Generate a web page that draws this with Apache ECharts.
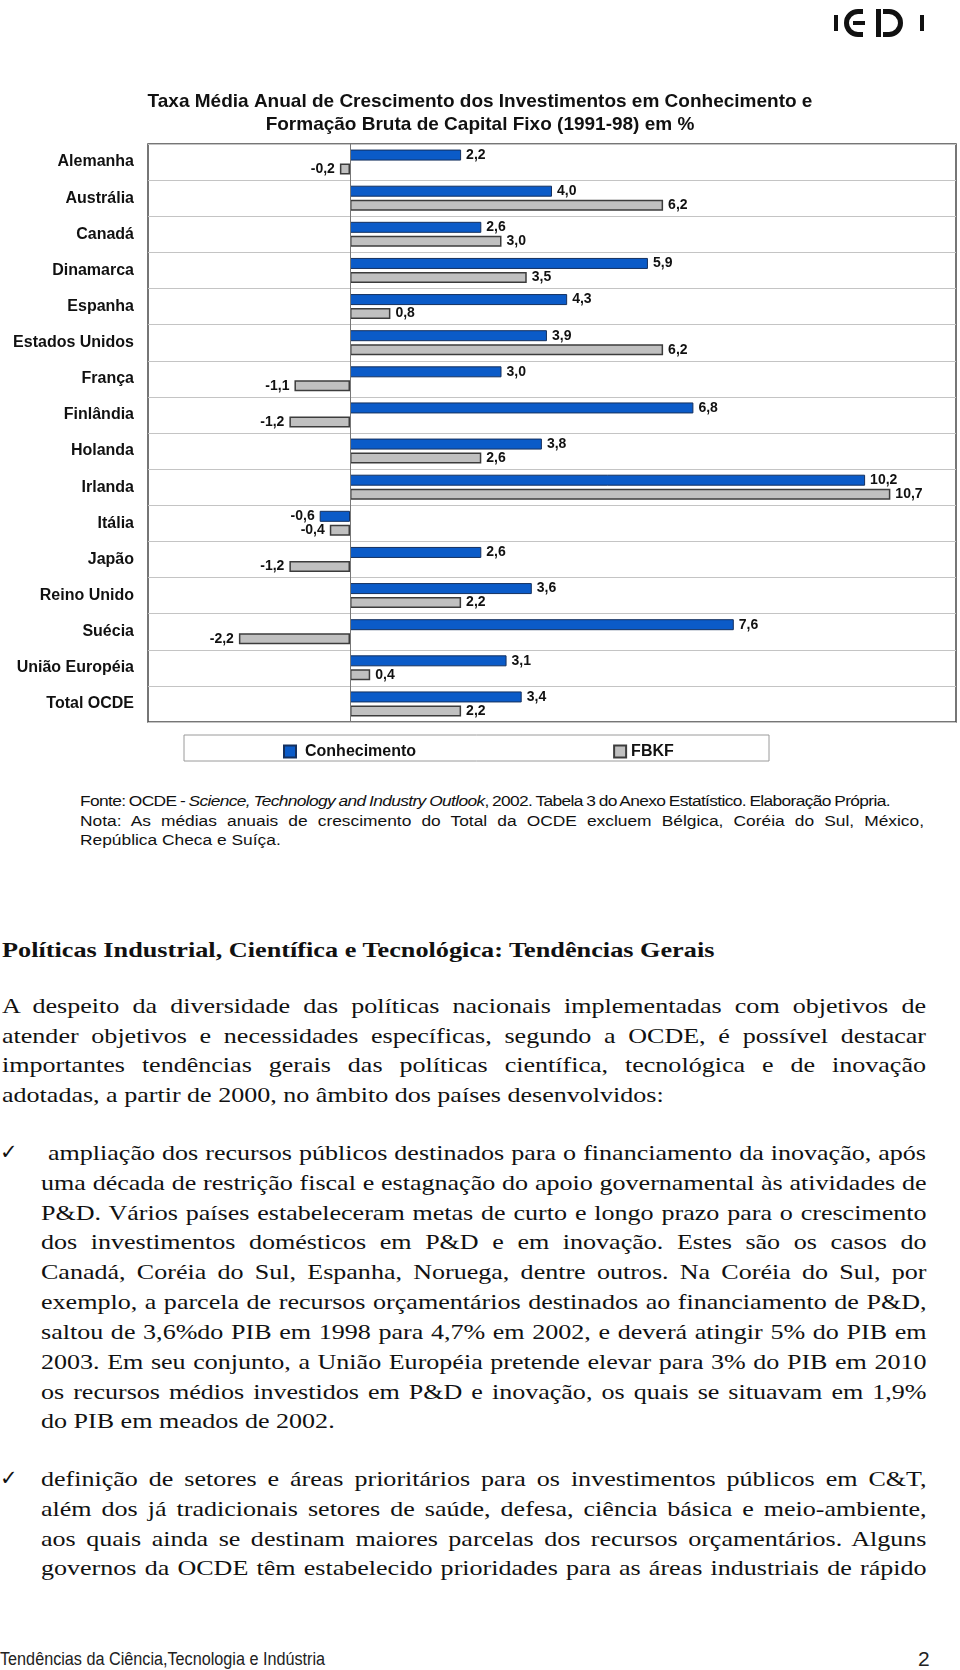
<!DOCTYPE html>
<html>
<head>
<meta charset="utf-8">
<script src="https://cdn.jsdelivr.net/npm/echarts@6.0.0/dist/echarts.min.js"></script>
<style>
  html, body { margin: 0; padding: 0; background: #fff; }
  #page { position: relative; width: 960px; height: 1670px; overflow: hidden; background: #fff; }
  #chart { position: absolute; left: 0; top: 0; width: 960px; height: 780px; }
  .notes { position: absolute; font-family: 'Liberation Sans', Arial, sans-serif; font-size: 15.5px; color: #111; line-height: 20px; white-space: nowrap; transform-origin: 0 0; }
  .notes.j { text-align: justify; text-align-last: justify; white-space: normal; word-spacing: -2px; }
  .notes.tight { letter-spacing: -0.58px; word-spacing: -0.6px; }
  .ln { position: absolute; font-family: 'Liberation Serif', 'Times New Roman', serif; font-size: 21px; line-height: 30px; color: #111; white-space: nowrap; transform-origin: 0 0; }
  .ln.j { white-space: normal; text-align: justify; text-align-last: justify; word-spacing: -3px; }
  .ln.b { font-weight: bold; }
  .check { position: absolute; left: 0px; font-family: 'DejaVu Sans', sans-serif; font-size: 21px; line-height: 30px; color: #111; }
  .foot { position: absolute; font-family: 'Liberation Sans', Arial, sans-serif; color: #222; white-space: nowrap; }
</style>
</head>
<body>
<div id="page">
  <div id="chart"></div>
  <div id="text"></div>
  <div class="foot" style="left:0; top:1648px; font-size:18px; line-height:22px; transform:scaleX(0.9); transform-origin:0 0;">Tendências da Ciência,Tecnologia e Indústria</div>
  <div class="foot" style="left:918px; top:1647px; font-size:21px; line-height:24px;">2</div>
</div>
<script>
// ---- chart data ----
const categories = ['Alemanha', 'Austrália', 'Canadá', 'Dinamarca', 'Espanha', 'Estados Unidos', 'França', 'Finlândia', 'Holanda', 'Irlanda', 'Itália', 'Japão', 'Reino Unido', 'Suécia', 'União Européia', 'Total OCDE'];
const conhecimento = [2.2, 4.0, 2.6, 5.9, 4.3, 3.9, 3.0, 6.8, 3.8, 10.2, -0.6, 2.6, 3.6, 7.6, 3.1, 3.4];
const fbkf = [-0.2, 6.2, 3.0, 3.5, 0.8, 6.2, -1.1, -1.2, 2.6, 10.7, -0.4, -1.2, 2.2, -2.2, 0.4, 2.2];
const seriesNames = ['Conhecimento', 'FBKF'];
const titleLines = ['Taxa Média Anual de Crescimento dos Investimentos em Conhecimento e', 'Formação Bruta de Capital Fixo (1991-98) em %'];

// ---- text blocks ----
const noteLines = [
  'Fonte: OCDE - <i>Science, Technology and Industry Outlook</i>, 2002. Tabela 3 do Anexo Estatístico. Elaboração Própria.',
  'Nota: As médias anuais de crescimento do Total da OCDE excluem Bélgica, Coréia do Sul, México,',
  'República Checa e Suíça.'
];
const heading = 'Políticas Industrial, Científica e Tecnológica: Tendências Gerais';
const para = [
  'A despeito da diversidade das políticas nacionais implementadas com objetivos de',
  'atender objetivos e necessidades específicas, segundo a OCDE, é possível destacar',
  'importantes tendências gerais das políticas científica, tecnológica e de inovação',
  'adotadas, a partir de 2000, no âmbito dos países desenvolvidos:'
];
const bullet1 = [
  'ampliação dos recursos públicos destinados para o financiamento da inovação, após',
  'uma década de restrição fiscal e estagnação do apoio governamental às atividades de',
  'P&amp;D. Vários países estabeleceram metas de curto e longo prazo para o crescimento',
  'dos investimentos domésticos em P&amp;D e em inovação. Estes são os casos do',
  'Canadá, Coréia do Sul, Espanha, Noruega, dentre outros. Na Coréia do Sul, por',
  'exemplo, a parcela de recursos orçamentários destinados ao financiamento de P&amp;D,',
  'saltou de 3,6%do PIB em 1998 para 4,7% em 2002, e deverá atingir 5% do PIB em',
  '2003. Em seu conjunto, a União Européia pretende elevar para 3% do PIB em 2010',
  'os recursos médios investidos em P&amp;D e inovação, os quais se situavam em 1,9%',
  'do PIB em meados de 2002.'
];
const bullet2 = [
  'definição de setores e áreas prioritários para os investimentos públicos em C&amp;T,',
  'além dos já tradicionais setores de saúde, defesa, ciência básica e meio-ambiente,',
  'aos quais ainda se destinam maiores parcelas dos recursos orçamentários. Alguns',
  'governos da OCDE têm estabelecido prioridades para as áreas industriais de rápido'
];

// ---- build HTML text ----
(function () {
  const host = document.getElementById('text');
  function put(cls, html, left, right, cy, lh, scale) {
    const d = document.createElement('div');
    d.className = cls;
    d.style.left = left + 'px';
    d.style.top = (cy - lh / 2) + 'px';
    d.style.width = ((right - left) / scale) + 'px';
    d.style.transform = 'scaleX(' + scale + ')';
    d.innerHTML = html;
    host.appendChild(d);
  }
  // notes
  const NS = 1.12;
  put('notes tight', noteLines[0], 80, 924, 801, 20, NS);
  put('notes j', noteLines[1], 80, 924, 820.5, 20, NS);
  put('notes', noteLines[2], 80, 924, 840, 20, NS);

  // body
  const S = 1.24, R = 926, step = 29.83;
  put('ln b', heading, 2, R, 950.4, 30, 1.25);
  para.forEach((t, i) => put('ln' + (i < para.length - 1 ? ' j' : ''), t, 2, R, 1005.8 + i * step, 30, S));
  bullet1.forEach((t, i) => put('ln' + (i < bullet1.length - 1 ? ' j' : ''), t, i === 0 ? 48 : 40.5, R, 1152.9 + i * step, 30, S));
  bullet2.forEach((t, i) => put('ln j', t, 40.5, R, 1478.9 + i * step, 30, S));
  [1152.9, 1478.9].forEach(cy => {
    const c = document.createElement('div');
    c.className = 'check';
    c.style.top = (cy - 16) + 'px';
    c.textContent = '✓';
    host.appendChild(c);
  });
})();

// ---- chart ----
const FONT = 'Liberation Sans, Arial, sans-serif';
const fmt = p => Number(p.value).toFixed(1).replace('.', ',');
const mk = v => ({ value: v, label: { position: v < 0 ? 'left' : 'right' } });

const chart = echarts.init(document.getElementById('chart'), null, { renderer: 'canvas' });
const labelStyle = { show: true, formatter: fmt, fontSize: 14, fontWeight: 'bold', color: '#111', fontFamily: FONT, distance: 5 };

chart.setOption({
  animation: false,
  textStyle: { fontFamily: FONT },
  title: titleLines.map((t, i) => ({
    text: t, left: 'center', top: 92 + i * 23.3, padding: 0,
    textStyle: { fontSize: 19, fontWeight: 'bold', color: '#111', fontFamily: FONT }
  })),
  grid: { left: 148, top: 144, width: 808, height: 578, show: true, borderColor: '#4a4a4a', borderWidth: 1.5, backgroundColor: '#fff' },
  xAxis: { type: 'value', min: -4, max: 12, show: false },
  yAxis: {
    type: 'category', data: categories, inverse: true,
    axisLine: { show: false }, axisTick: { show: false },
    axisLabel: { margin: 14, fontSize: 16, fontWeight: 'bold', color: '#111', fontFamily: FONT, padding: [3, 0, 0, 0] },
    splitLine: { show: true, interval: 0, lineStyle: { color: '#c4c4c4', width: 1 } }
  },
  legend: {
    left: 278, top: 738.5, itemWidth: 12, itemHeight: 12, itemGap: 197, icon: 'rect',
    textStyle: { fontSize: 16, fontWeight: 'bold', color: '#111', fontFamily: FONT },
    data: [
      { name: seriesNames[0], textStyle: { padding: [0, 0, 0, 4] } },
      { name: seriesNames[1] }
    ]
  },
  graphic: [
    { type: 'rect', shape: { x: 184, y: 735, width: 585, height: 26 }, style: { fill: 'none', stroke: '#9a9a9a', lineWidth: 1 }, silent: true },
    // IEDI logo
    { type: 'rect', shape: { x: 834, y: 15, width: 4, height: 16 }, style: { fill: '#111' } },
    { type: 'arc', shape: { cx: 858, cy: 23, r: 11.5, startAngle: Math.PI / 2, endAngle: Math.PI * 3 / 2, clockwise: true }, style: { stroke: '#111', lineWidth: 5, fill: 'none' } },
    { type: 'rect', shape: { x: 858, y: 9, width: 5, height: 5 }, style: { fill: '#111' } },
    { type: 'rect', shape: { x: 858, y: 32, width: 5, height: 5 }, style: { fill: '#111' } },
    { type: 'rect', shape: { x: 853, y: 21, width: 12, height: 4 }, style: { fill: '#111' } },
    { type: 'rect', shape: { x: 876, y: 9, width: 5, height: 28 }, style: { fill: '#111' } },
    { type: 'arc', shape: { cx: 889, cy: 23, r: 11.5, startAngle: -Math.PI / 2, endAngle: Math.PI / 2, clockwise: true }, style: { stroke: '#111', lineWidth: 5, fill: 'none' } },
    { type: 'rect', shape: { x: 883, y: 9, width: 6, height: 5 }, style: { fill: '#111' } },
    { type: 'rect', shape: { x: 883, y: 32, width: 6, height: 5 }, style: { fill: '#111' } },
    { type: 'rect', shape: { x: 920, y: 15, width: 4, height: 16 }, style: { fill: '#111' } }
  ],
  series: [
    {
      name: seriesNames[0], type: 'bar', barWidth: 11, barGap: '27%',
      data: conhecimento.map(mk),
      itemStyle: { color: '#0b5bc8', borderColor: '#15305e', borderWidth: 1 },
      label: labelStyle,
      emphasis: { disabled: true },
      markLine: {
        silent: true, symbol: 'none', label: { show: false },
        lineStyle: { color: '#777', width: 1, type: 'solid' },
        data: [{ xAxis: 0 }]
      }
    },
    {
      name: seriesNames[1], type: 'bar', barWidth: 11, barGap: '27%',
      data: fbkf.map(mk),
      itemStyle: { color: '#c0c0c0', borderColor: '#3c3c3c', borderWidth: 1.5 },
      label: labelStyle,
      emphasis: { disabled: true }
    }
  ]
});
</script>
</body>
</html>
